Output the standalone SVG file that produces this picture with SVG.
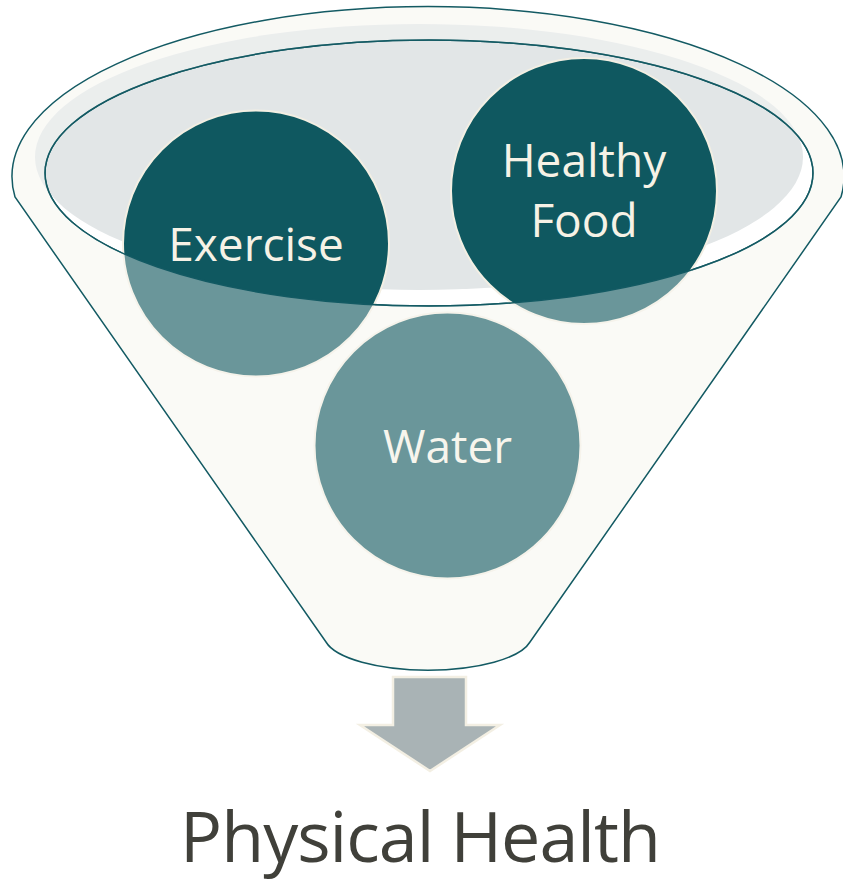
<svg xmlns="http://www.w3.org/2000/svg" width="843" height="885" viewBox="0 0 843 885">
<defs>
<style>
.outline{fill:none;stroke:#135a63;stroke-width:1.5}
.ball{fill:#0f5860;stroke:#f3efe3;stroke-width:2}
.lbl{font-family:"Open Sans","Noto Sans",sans-serif;font-size:46px;fill:#f6f2e6;text-anchor:middle}
</style>
</defs>
<rect width="843" height="885" fill="#ffffff"/>
<g id="funnel">
<path id="funnelBody" d="M15,197 A416,170 0 1 1 841,197 L530,642 A104,35 0 0 1 326,642 Z" fill="#fafaf6"/>
<ellipse cx="429" cy="173" rx="384" ry="133" fill="#ffffff"/>
<ellipse cx="419" cy="157" rx="384" ry="133" fill="#e2e6e7"/>
<ellipse cx="429" cy="173" rx="384" ry="133" class="outline"/>
</g>
<g id="exercise">
<circle class="ball" cx="256" cy="243.5" r="133"/>
<text class="lbl" x="256" y="261">Exercise</text>
</g>
<g id="healthy-food">
<circle class="ball" cx="584" cy="191" r="133"/>
<text class="lbl" x="584" y="177">Healthy</text>
<text class="lbl" x="584" y="237">Food</text>
</g>
<g id="water">
<circle class="ball" cx="447.5" cy="445.5" r="133"/>
<text class="lbl" x="447.5" y="463">Water</text>
</g>
<g id="funnel-front">
<path d="M15,197 A416,170 0 1 1 841,197 L530,642 A104,35 0 0 1 326,642 Z M45,173 A384,133 0 1 0 813,173 A384,133 0 1 0 45,173 Z" fill="#fafaf6" fill-opacity="0.39" fill-rule="evenodd"/>
<path d="M15,197 A416,170 0 1 1 841,197 L530,642 A104,35 0 0 1 326,642 Z" class="outline"/>
<ellipse cx="429" cy="173" rx="384" ry="133" class="outline" stroke-width="1"/>
</g>
<g id="connectors">
<path id="arrow" d="M393,677 L466,677 L466,725 L500,725 L430,771 L360,725 L393,725 Z" fill="#a9b3b5" stroke="#f3efe3" stroke-width="2.5"/>
</g>
<g id="result">
<text x="420" y="862" font-family="'Open Sans','Noto Sans',sans-serif" font-size="70" letter-spacing="-1" fill="#40403a" text-anchor="middle">Physical Health</text>
</g>
</svg>
